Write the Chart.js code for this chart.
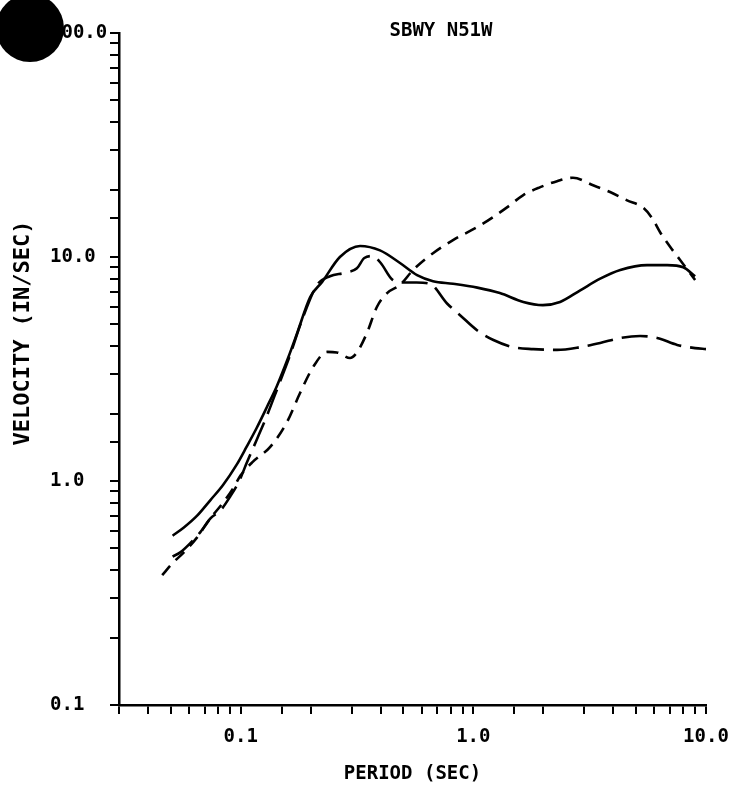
<!DOCTYPE html>
<html>
<head>
<meta charset="utf-8">
<title>SBWY N51W</title>
<script src="https://cdn.jsdelivr.net/npm/chart.js@4.4.1/dist/chart.umd.min.js"></script>
<style>
  html, body { margin: 0; padding: 0; background: #fff; }
</style>
</head>
<body>
<canvas id="spectrumChart" width="752" height="785"></canvas>
<script>
// text
const chartTitle = 'SBWY N51W';
const xTitle = 'PERIOD (SEC)';
const yTitle = 'VELOCITY (IN/SEC)';

// axis ranges and the ticks that carry a label
const periodRange = [0.03, 10];
const velocityRange = [0.1, 100];
const periodLabels = [0.1, 1, 10];
const velocityLabels = [0.1, 1, 10, 100];

// solid curve
const solidPeriod = [0.051, 0.057, 0.065, 0.074, 0.084, 0.096, 0.106, 0.117, 0.130, 0.143, 0.160, 0.175, 0.199, 0.224, 0.267, 0.326, 0.397, 0.484, 0.573, 0.671, 0.818, 1.04, 1.30, 1.64, 1.99, 2.36, 2.88, 3.51, 4.28, 5.58, 6.81, 7.98, 8.98];
const solidVelocity = [0.57, 0.62, 0.70, 0.82, 0.96, 1.18, 1.42, 1.72, 2.15, 2.65, 3.55, 4.58, 6.63, 7.74, 10.0, 11.2, 10.7, 9.4, 8.3, 7.8, 7.6, 7.3, 6.9, 6.3, 6.1, 6.3, 7.1, 8.0, 8.75, 9.2, 9.2, 9.0, 8.2];

// long dashed curve
const longPeriod = [0.051, 0.055, 0.061, 0.067, 0.074, 0.082, 0.090, 0.099, 0.106, 0.117, 0.130, 0.143, 0.163, 0.185, 0.213, 0.242, 0.281, 0.316, 0.340, 0.370, 0.400, 0.450, 0.500, 0.570, 0.650, 0.771, 0.877, 1.04, 1.22, 1.48, 1.81, 2.29, 2.88, 3.51, 4.28, 5.21, 6.17, 7.52, 8.98, 10.0];
const longVelocity = [0.46, 0.48, 0.53, 0.59, 0.68, 0.74, 0.85, 1.01, 1.20, 1.52, 1.97, 2.55, 3.65, 5.35, 7.5, 8.2, 8.5, 8.9, 9.9, 10.1, 9.4, 7.9, 7.7, 7.7, 7.6, 6.2, 5.5, 4.7, 4.26, 3.96, 3.88, 3.85, 3.96, 4.13, 4.35, 4.44, 4.35, 4.05, 3.92, 3.88];

// short dashed curve
const shortPeriod = [0.046, 0.051, 0.057, 0.065, 0.074, 0.084, 0.093, 0.100, 0.113, 0.134, 0.158, 0.180, 0.205, 0.235, 0.259, 0.295, 0.316, 0.349, 0.385, 0.426, 0.484, 0.551, 0.671, 0.818, 1.04, 1.22, 1.40, 1.64, 1.94, 2.29, 2.68, 3.27, 3.87, 4.58, 5.37, 5.87, 6.35, 7.01, 7.74, 8.98];
const shortVelocity = [0.38, 0.43, 0.48, 0.56, 0.68, 0.80, 0.93, 1.06, 1.22, 1.42, 1.83, 2.47, 3.23, 3.77, 3.75, 3.54, 3.75, 4.58, 5.98, 6.90, 7.50, 8.75, 10.4, 11.9, 13.6, 15.1, 16.7, 18.9, 20.5, 21.8, 22.6, 20.9, 19.5, 17.9, 16.6, 14.9, 12.9, 11.1, 9.7, 7.9];

const plotFont = '"DejaVu Sans Mono", "Liberation Mono", monospace';

function toPoints(xs, ys) {
    return xs.map((x, i) => ({ x: x, y: ys[i] }));
}

function decadeLabel(list) {
    return function (value) {
        const hit = list.some(v => Math.abs(v - value) < v * 1e-6);
        return hit ? Number(value).toFixed(1) : '';
    };
}

// title, rotated y title and the punched hole of the scanned sheet
const sheetExtras = {
    id: 'sheetExtras',
    afterDraw(chart) {
        const ctx = chart.ctx;
        ctx.save();
        ctx.fillStyle = '#000';
        ctx.textAlign = 'center';
        ctx.textBaseline = 'middle';
        ctx.font = 'bold 19px ' + plotFont;
        ctx.fillText(chartTitle, 441, 31);

        ctx.translate(23, 333);
        ctx.rotate(-Math.PI / 2);
        ctx.font = 'bold 22px ' + plotFont;
        ctx.fillText(yTitle, 0, 0);
        ctx.restore();

        ctx.save();
        ctx.fillStyle = '#000';
        ctx.beginPath();
        ctx.arc(30, 28, 34, 0, Math.PI * 2);
        ctx.fill();
        ctx.restore();
    }
};

const lineStyle = {
    borderColor: '#000',
    borderWidth: 2.6,
    pointRadius: 0,
    fill: false,
    cubicInterpolationMode: 'monotone'
};

const ctx = document.getElementById('spectrumChart').getContext('2d');
new Chart(ctx, {
    type: 'line',
    data: {
        datasets: [
            Object.assign({ label: 'solid', data: toPoints(solidPeriod, solidVelocity) }, lineStyle),
            Object.assign({ label: 'long dash', data: toPoints(longPeriod, longVelocity), borderDash: [26, 9] }, lineStyle),
            Object.assign({ label: 'short dash', data: toPoints(shortPeriod, shortVelocity), borderDash: [12, 8] }, lineStyle)
        ]
    },
    options: {
        responsive: false,
        animation: false,
        layout: { padding: { left: 50, right: 46, top: 33, bottom: 0 } },
        plugins: {
            legend: { display: false },
            tooltip: { enabled: false }
        },
        scales: {
            x: {
                type: 'logarithmic',
                min: periodRange[0],
                max: periodRange[1],
                afterFit: scale => { scale.height = 80; },
                grid: { drawOnChartArea: false, drawTicks: true, tickLength: 9, color: '#000', lineWidth: 2 },
                border: { display: true, color: '#000', width: 2.5 },
                ticks: {
                    autoSkip: false,
                    maxRotation: 0,
                    padding: 12,
                    color: '#000',
                    font: { family: plotFont, size: 19, weight: 'bold' },
                    callback: decadeLabel(periodLabels)
                },
                title: {
                    display: true,
                    text: xTitle,
                    color: '#000',
                    font: { family: plotFont, size: 19, weight: 'bold', lineHeight: 1 },
                    padding: { top: 0, bottom: 1 }
                }
            },
            y: {
                type: 'logarithmic',
                min: velocityRange[0],
                max: velocityRange[1],
                afterFit: scale => { scale.width = 69; },
                grid: { drawOnChartArea: false, drawTicks: true, tickLength: 9, color: '#000', lineWidth: 2 },
                border: { display: true, color: '#000', width: 2.5 },
                ticks: {
                    autoSkip: false,
                    crossAlign: 'far',
                    color: '#000',
                    font: { family: plotFont, size: 19, weight: 'bold' },
                    callback: decadeLabel(velocityLabels)
                }
            }
        }
    },
    plugins: [sheetExtras]
});
</script>
</body>
</html>
